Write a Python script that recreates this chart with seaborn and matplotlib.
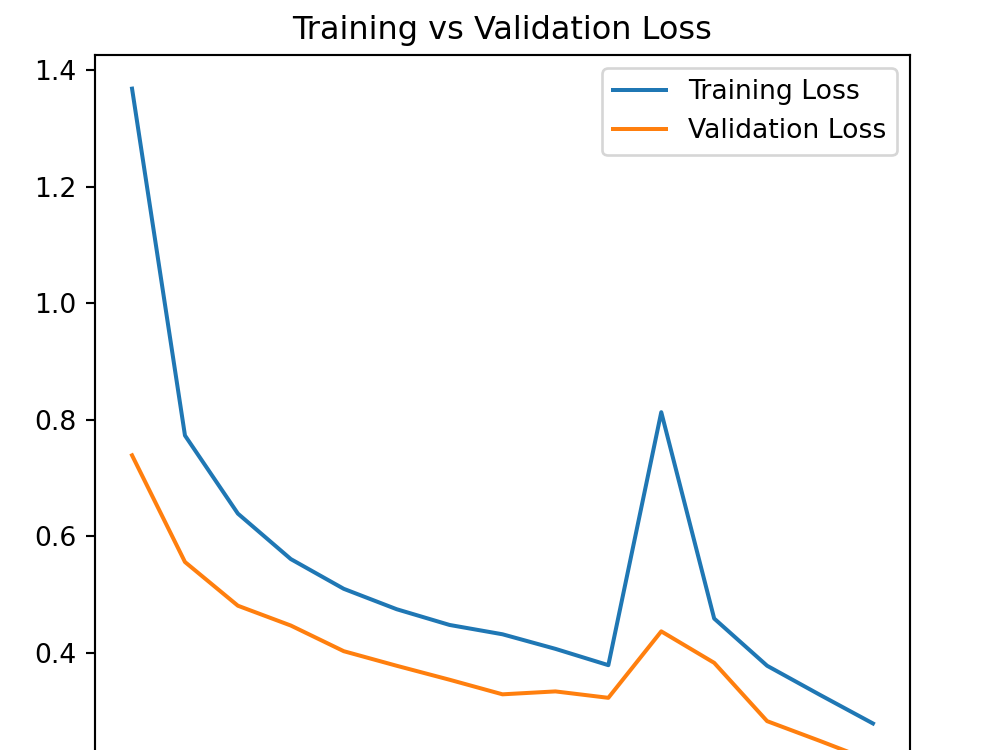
import matplotlib
matplotlib.use("Agg")
import matplotlib.pyplot as plt
import seaborn as sns
import pandas as pd

epochs = list(range(1, 16))
train_loss = [1.368, 0.773, 0.639, 0.561, 0.510, 0.475, 0.448, 0.432, 0.407, 0.379,
              0.813, 0.459, 0.378, 0.328, 0.279]
val_loss = [0.739, 0.556, 0.481, 0.447, 0.403, 0.378, 0.354, 0.329, 0.334, 0.323,
            0.437, 0.383, 0.283, 0.249, 0.214]

df = pd.DataFrame({"epoch": epochs, "train": train_loss, "val": val_loss})

DPI = 192
fig = plt.figure(figsize=(1000 / DPI, 750 / DPI), dpi=DPI)
ax = fig.add_axes([0.095, 1 - 795 / 750, 0.815, 740 / 750])

sns.lineplot(data=df, x="epoch", y="train", ax=ax, label="Training Loss", color="tab:blue")
sns.lineplot(data=df, x="epoch", y="val", ax=ax, label="Validation Loss", color="tab:orange")

ax.set_title("Training vs Validation Loss")
ax.set_xlabel("Epoch")
ax.set_ylabel("")
ax.legend(loc="upper right")

fig.savefig("out.png", dpi=DPI)
